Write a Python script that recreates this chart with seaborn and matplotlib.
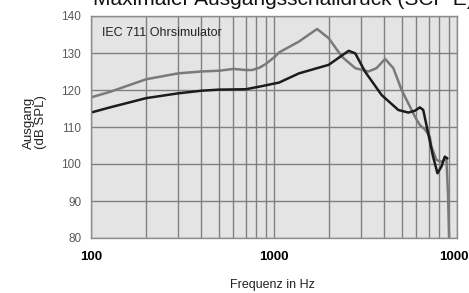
import matplotlib
matplotlib.use("Agg")
import matplotlib.pyplot as plt
import matplotlib.transforms as mtransforms
import pandas as pd
import seaborn as sns

# === Frequency response (Hz, dB SPL) ===
grey_freq = [100, 127, 200, 300, 400, 500, 600, 700, 760, 830, 900, 1000, 1070,
             1370, 1720, 1990, 2350, 2780, 3280, 3630, 4050, 4490, 4980, 5650,
             5890, 6270, 6670, 7100, 7250, 7720, 8220, 8750, 8940, 9050]
grey_spl = [118.0, 119.5, 122.9, 124.5, 125.0, 125.2, 125.7, 125.4, 125.4, 126.0,
            127.0, 128.8, 130.2, 133.1, 136.5, 134.0, 129.0, 125.9, 125.0, 125.9,
            128.4, 125.9, 120.0, 114.6, 112.8, 110.5, 109.4, 107.4, 104.7, 101.1,
            100.6, 101.5, 91.2, 80.0]

black_freq = [100, 127, 200, 300, 400, 500, 700, 830, 1065, 1370, 1990, 2300,
              2560, 2780, 3150, 3880, 4780, 5420, 5890, 6270, 6540, 6960, 7400,
              7820, 8220, 8580, 8860]
black_spl = [113.9, 115.3, 117.8, 119.1, 119.8, 120.1, 120.2, 120.9, 122.0, 124.5,
             126.8, 129.0, 130.6, 129.9, 124.9, 118.6, 114.6, 113.9, 114.4, 115.3,
             114.6, 108.3, 102.0, 97.5, 99.3, 102.0, 101.5]

x_ticks = [100, 1000, 10000]
x_ticklabels = ["100", "1000", "1000"]
y_ticks = [80, 90, 100, 110, 120, 130, 140]

sns.set_style("white")
plt.rcParams["font.family"] = ["Liberation Sans", "DejaVu Sans"]

grey = pd.DataFrame({"f": grey_freq, "spl": grey_spl})
black = pd.DataFrame({"f": black_freq, "spl": black_spl})

fig = plt.figure(figsize=(4.69, 2.93), dpi=100)
ax = fig.add_axes([91 / 469, 1 - 238 / 293, 366 / 469, 222 / 293])
ax.set_facecolor("#e4e4e4")

sns.lineplot(data=grey, x="f", y="spl", ax=ax, color="#7a7a7a", linewidth=1.8)
sns.lineplot(data=black, x="f", y="spl", ax=ax, color="#1c1c1c", linewidth=1.8)

ax.set_xscale("log")
ax.set_xlim(100, 10000)
ax.set_ylim(80, 140)
ax.set_xticks(x_ticks)
ax.set_xticklabels(x_ticklabels, fontsize=9.5, fontweight="bold", color="black")
ax.set_xticks([m * d for d in (100, 1000) for m in range(2, 10)], minor=True)
ax.set_yticks(y_ticks)
ax.set_yticklabels([str(v) for v in y_ticks], fontsize=8.5, color="#5a5a5a")
ax.tick_params(axis="both", which="both", length=0)
ax.tick_params(axis="y", pad=7)
ax.tick_params(axis="x", pad=9)

# last tick label sits a little left of the axis end so it stays inside
last = ax.get_xticklabels()[-1]
last.set_transform(last.get_transform() +
                   mtransforms.ScaledTranslation(-3 / 100, 0, fig.dpi_scale_trans))

ax.grid(True, which="both", color="#808080", linewidth=1.0)
ax.set_axisbelow(True)
for s in ax.spines.values():
    s.set_color("#8c8c8c")
    s.set_linewidth(1.0)

ax.set_xlabel("Frequenz in Hz", fontsize=9, color="#222222")
ax.xaxis.set_label_coords(0.497, -0.185)
ax.set_ylabel("Ausgang\n(dB SPL)", fontsize=9.5, color="#222222", linespacing=1.0)
ax.yaxis.set_label_coords(-0.12, 0.52)

ax.text(0.03, 0.91, "IEC 711 Ohrsimulator", transform=ax.transAxes,
        fontsize=9, color="#222222")

# title is cut off at the top edge in the original
fig.text(93 / 469, 1 - 5 / 293, "Maximaler Ausgangsschalldruck (SCP E)",
         fontsize=15, va="baseline", ha="left", color="#111111")

fig.savefig("out.png", dpi=100)
plt.close(fig)
